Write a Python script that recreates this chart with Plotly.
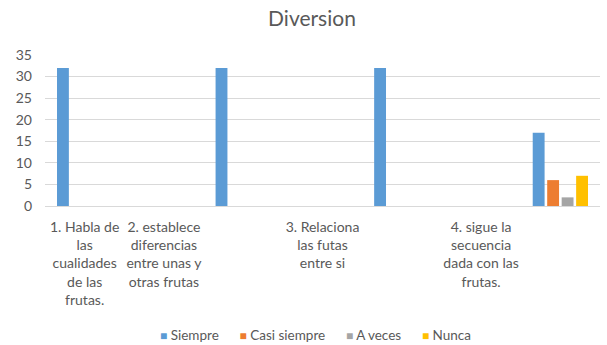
import plotly.graph_objects as go

# Category slots along the x axis (some slots carry no label)
categories = [
    "1. Habla de<br>las<br>cualidades<br>de las<br>frutas.",
    "2. establece<br>diferencias<br>entre unas y<br>otras frutas",
    "",
    "3. Relaciona<br>las futas<br>entre si",
    "",
    "4. sigue la<br>secuencia<br>dada con las<br>frutas.",
    "",
]

siempre = [32, None, 32, None, 32, None, 17]
casi_siempre = [None, None, None, None, None, None, 6]
a_veces = [None, None, None, None, None, None, 2]
nunca = [None, None, None, None, None, None, 7]

series = [
    ("Siempre", siempre, "#5B9BD5"),
    ("Casi siempre", casi_siempre, "#ED7D31"),
    ("A veces", a_veces, "#A5A5A5"),
    ("Nunca", nunca, "#FFC000"),
]

positions = list(range(len(categories)))

FONT = "Lato, 'Open Sans', sans-serif"
GRAY = "#595959"

fig = go.Figure()
for name, vals, color in series:
    fig.add_trace(go.Bar(
        x=positions, y=vals, name=name,
        marker=dict(color=color, line=dict(width=0)),
        showlegend=False,
    ))

# Compact legend row: small coloured square right next to each series name
legend_text = "&nbsp;&nbsp;&nbsp;&nbsp;&nbsp;&nbsp;".join(
    f"<span style='color:{color};font-size:12px'>■</span>&nbsp;{name}"
    for name, _, color in series
)
fig.add_annotation(
    text=legend_text, showarrow=False,
    xref="paper", yref="paper", x=(315 - 45) / 555, y=-129 / 151,
    xanchor="center", yanchor="middle",
    font=dict(family=FONT, size=13.5, color=GRAY),
)

fig.update_layout(
    width=607, height=345,
    margin=dict(l=45, r=7, t=55, b=139),
    paper_bgcolor="white", plot_bgcolor="white",
    barmode="group", bargap=0.27, bargroupgap=0.18,
    font=dict(family=FONT, size=13, color=GRAY),
    title=dict(
        text="Diversion", x=0.514, xanchor="center", xref="container",
        y=0.945, yanchor="middle", yref="container",
        font=dict(family=FONT, size=21, color=GRAY),
    ),
    showlegend=False,
)

fig.update_xaxes(
    tickmode="array", tickvals=positions, ticktext=categories,
    range=[-0.5, len(categories) - 0.5],
    tickangle=0, showgrid=False, zeroline=False, showline=False,
    ticks="", ticklabelstandoff=11,
    tickfont=dict(family=FONT, size=14, color=GRAY),
)
fig.update_yaxes(
    range=[0, 35], dtick=5, tick0=0,
    showgrid=True, gridcolor="#D9D9D9", gridwidth=1,
    zeroline=True, zerolinecolor="#D9D9D9", zerolinewidth=1,
    showline=False, ticks="", ticklabelstandoff=12,
    tickfont=dict(family=FONT, size=14, color=GRAY),
)

fig.write_html("out.html")
